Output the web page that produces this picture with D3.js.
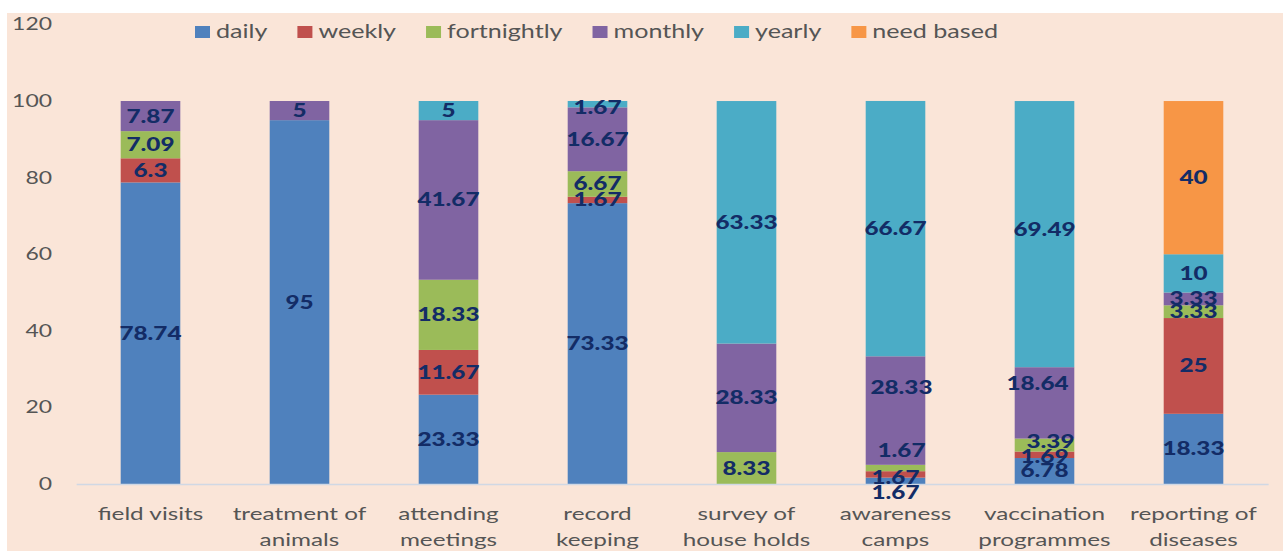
<!DOCTYPE html>
<html>
<head>
<meta charset="utf-8">
<script src="https://cdn.jsdelivr.net/npm/d3@7"></script>
<style>
  body { margin: 0; background: #fff; }
  svg { display: block; }
</style>
</head>
<body>
<script>
// chart data
var categories = ["field visits", "treatment of\nanimals", "attending\nmeetings", "record\nkeeping",
                  "survey of\nhouse holds", "awareness\ncamps", "vaccination\nprogrammes", "reporting of\ndiseases"];
var seriesNames = ["daily", "weekly", "fortnightly", "monthly", "yearly", "need based"];
var daily       = [78.74, 95, 23.33, 73.33, 0, 1.67, 6.78, 18.33];
var weekly      = [6.3, 0, 11.67, 1.67, 0, 1.67, 1.69, 25];
var fortnightly = [7.09, 0, 18.33, 6.67, 8.33, 1.67, 3.39, 3.33];
var monthly     = [7.87, 5, 41.67, 16.67, 28.33, 28.33, 18.64, 3.33];
var yearly      = [0, 0, 5, 1.67, 63.33, 66.67, 69.49, 10];
var needBased   = [0, 0, 0, 0, 0, 0, 0, 40];
var yTicks = [0, 20, 40, 60, 80, 100, 120];

// hand-moved data labels (category index, series, dx px, dy px)
var labelNudges = [
  [3, "yearly", 0, 3],
  [5, "monthly", 6, -23],
  [5, "fortnightly", 6, -17],
  [5, "weekly", 0, 3],
  [5, "daily", 0, 12],
  [6, "yearly", 0, -5],
  [6, "monthly", -7, -19],
  [6, "fortnightly", 6, -4],
  [6, "weekly", 0, 2]
];

var colors = ["#4F81BD", "#C0504D", "#9BBB59", "#8064A2", "#4BACC6", "#F79646"];
var seriesValues = [daily, weekly, fortnightly, monthly, yearly, needBased];

// the original picture is stretched sideways; draw in a narrower box and stretch it
var sx = 1.35;
var pageW = 1283, pageH = 551;
var W = pageW / sx;
var font = "Lato, 'Open Sans', sans-serif";

var rows = categories.map(function(c, i) {
  var r = {cat: c, idx: i};
  seriesNames.forEach(function(s, j) { r[s] = seriesValues[j][i]; });
  return r;
});

var svg = d3.select("body").append("svg")
  .attr("width", pageW)
  .attr("height", pageH)
  .attr("viewBox", "0 0 " + W + " " + pageH)
  .attr("preserveAspectRatio", "none");

svg.append("rect")
  .attr("x", 7 / sx).attr("y", 13)
  .attr("width", W - 7 / sx).attr("height", pageH - 13)
  .attr("fill", "#FAE5D8");

var x = d3.scaleBand()
  .domain(d3.range(categories.length))
  .range([76 / sx, 1268 / sx])
  .paddingInner(0.6)
  .paddingOuter(0.3);

var y = d3.scaleLinear()
  .domain([0, 120])
  .range([484, 24.4]);

var stack = d3.stack().keys(seriesNames);
var layers = stack(rows);

var layerG = svg.selectAll("g.layer")
  .data(layers)
  .enter().append("g")
  .attr("class", "layer")
  .attr("fill", function(d, i) { return colors[i]; });

layerG.selectAll("rect")
  .data(function(d) { return d.filter(function(p) { return p[1] - p[0] > 0; }); })
  .enter().append("rect")
  .attr("x", function(d) { return x(d.data.idx); })
  .attr("y", function(d) { return y(d[1]); })
  .attr("width", x.bandwidth())
  .attr("height", function(d) { return y(d[0]) - y(d[1]); });

// y axis (labels only)
var yAxisG = svg.append("g")
  .attr("transform", "translate(" + (76 / sx) + ",0)")
  .call(d3.axisLeft(y).tickValues(yTicks).tickSize(0).tickPadding(24 / sx));
yAxisG.select(".domain").remove();
yAxisG.selectAll("text")
  .attr("font-family", font)
  .attr("font-size", "17px")
  .attr("fill", "#555555");

// x axis line and wrapped category labels
var xAxisG = svg.append("g")
  .attr("transform", "translate(0," + y(0) + ")")
  .call(d3.axisBottom(x).tickSize(0).tickFormat(""));
xAxisG.select(".domain").attr("stroke", "#D0D8E4").attr("stroke-width", 1.3);
xAxisG.selectAll(".tick text").remove();

var catText = svg.append("g").selectAll("text")
  .data(categories)
  .enter().append("text")
  .attr("text-anchor", "middle")
  .attr("font-family", font)
  .attr("font-size", "18px")
  .attr("fill", "#555555");
catText.each(function(c, i) {
  var t = d3.select(this);
  c.split("\n").forEach(function(line, k) {
    t.append("tspan")
      .attr("x", x(i) + x.bandwidth() / 2)
      .attr("y", 514 + k * 26)
      .attr("dy", "0.35em")
      .text(line);
  });
});

// data labels
function nudge(idx, key) {
  for (var i = 0; i < labelNudges.length; i++) {
    if (labelNudges[i][0] === idx && labelNudges[i][1] === key) return labelNudges[i];
  }
  return [idx, key, 0, 0];
}

layers.forEach(function(layer) {
  svg.append("g").selectAll("text")
    .data(layer.filter(function(p) { return p[1] - p[0] > 0; }))
    .enter().append("text")
    .attr("x", function(d) { return x(d.data.idx) + x.bandwidth() / 2 + nudge(d.data.idx, layer.key)[2] / sx; })
    .attr("y", function(d) { return y((d[0] + d[1]) / 2) + nudge(d.data.idx, layer.key)[3]; })
    .attr("dy", "0.36em")
    .attr("text-anchor", "middle")
    .attr("font-family", font)
    .attr("font-weight", 900)
    .attr("font-size", "18px")
    .attr("fill", "#132C66")
    .text(function(d) { return String(d.data[layer.key]); });
});

// legend
var legend = svg.append("g");
var lx = 195 / sx;
seriesNames.forEach(function(s, i) {
  legend.append("rect")
    .attr("x", lx).attr("y", 26)
    .attr("width", 15 / sx).attr("height", 12)
    .attr("fill", colors[i]);
  var t = legend.append("text")
    .attr("x", lx + 21 / sx)
    .attr("y", 32)
    .attr("dy", "0.35em")
    .attr("font-family", font)
    .attr("font-size", "18.6px")
    .attr("fill", "#555555")
    .text(s);
  lx += 21 / sx + t.node().getComputedTextLength() + 30 / sx;
});
</script>
</body>
</html>
